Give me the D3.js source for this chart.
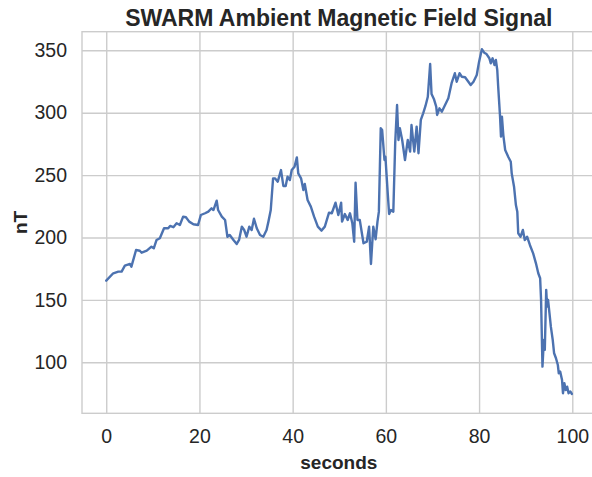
<!DOCTYPE html>
<html>
<head>
<meta charset="utf-8">
<script src="https://cdn.jsdelivr.net/npm/d3@7"></script>
<style>
  html, body { margin: 0; padding: 0; background: #ffffff; }
  svg { display: block; font-family: "Liberation Sans", Arial, sans-serif; }
</style>
</head>
<body>
<svg id="chart" width="592" height="477"></svg>
<script>
// Time stamps (s) and ambient field (nT) of the SWARM trace
const seconds = [
  0.0, 1.5, 2.6, 3.3, 4.0, 5.1, 5.4, 6.4, 7.2, 7.6, 8.7, 9.7, 10.2, 10.8, 11.5,
  12.4, 13.3, 13.7, 14.4, 15.1, 15.8, 16.5, 17.1, 17.8, 18.7, 19.7, 20.3, 21.2,
  21.9, 22.6, 23.0, 23.7, 24.0, 24.8, 25.5, 26.0, 26.5, 27.3, 28.0, 28.5, 29.1,
  29.6, 30.1, 30.7, 31.2, 31.7, 32.3, 33.0, 33.7, 34.4, 34.8, 35.3, 35.8, 36.2,
  36.8, 37.5, 38.0, 38.5, 38.9, 39.4, 39.8, 40.4, 40.9, 41.2, 41.8, 42.3, 42.6,
  43.2, 43.9, 44.6, 45.4, 46.2, 46.9, 47.8, 48.4, 49.2, 49.8, 50.4, 50.6, 51.2,
  51.8, 52.3, 52.8, 53.2, 53.5, 53.9, 54.4, 55.2, 55.9, 56.4, 56.8, 57.3, 57.8,
  58.2, 58.5, 58.9, 59.2, 59.7, 59.9, 60.4, 60.7, 61.1, 61.6, 62.0, 62.4, 62.7,
  63.0, 63.5, 64.1, 64.7, 65.2, 65.5, 66.1, 66.6, 67.0, 67.5, 68.0, 68.5, 69.0,
  69.5, 69.8, 70.3, 70.8, 71.0, 71.5, 72.0, 72.7, 73.4, 74.1, 74.8, 75.2, 75.8,
  76.3, 77.0, 77.7, 78.2, 78.8, 79.5, 80.0, 80.6, 81.1, 81.6, 82.2, 82.5, 82.9,
  83.3, 83.6, 83.9, 84.1, 84.5, 84.7, 84.9, 85.2, 85.6, 86.3, 86.8, 87.0, 87.5,
  87.9, 88.2, 88.4, 88.9, 89.4, 89.8, 90.3, 90.9, 91.6, 92.2, 92.7, 93.1, 93.3,
  93.6, 93.9, 94.1, 94.4, 94.6, 94.8, 95.1, 95.4, 95.8, 96.1, 96.5, 96.9, 97.1,
  97.4, 97.8, 98.0, 98.3, 98.6, 98.9, 99.2, 99.6, 99.9
];
const fieldNT = [
  165.4, 171.3, 172.6, 172.6, 177.4, 178.8, 176.6, 190.0, 189.4, 187.8, 189.4, 192.6, 191.3, 198.0, 199.4,
  207.4, 207.4, 209.2, 208.2, 211.4, 210.0, 216.7, 216.2, 212.7, 210.6, 210.0, 218.0, 219.4,
  220.7, 223.4, 222.0, 229.5, 222.0, 216.7, 214.0, 200.6, 202.0, 198.0, 194.8, 198.0, 208.7,
  206.0, 200.6, 208.7, 206.0, 215.0, 207.4, 202.0, 200.6, 206.0, 212.7, 222.0, 247.4, 247.4,
  244.7, 254.0, 241.3, 241.3, 248.7, 246.0, 254.0, 256.7, 264.2, 251.4, 247.4, 238.0, 242.9,
  230.0, 224.7, 216.7, 208.7, 205.5, 208.7, 219.9, 219.4, 227.9, 218.0, 227.9, 212.7, 218.8,
  214.0, 219.4, 211.4, 196.6, 243.9, 214.0, 214.0, 195.4, 196.6, 208.7, 178.8, 208.7, 198.6,
  212.7, 220.7, 287.5, 286.1, 262.1, 264.7, 235.4, 218.8, 222.0, 220.7, 275.5, 306.2, 278.1,
  287.5, 278.1, 262.1, 278.1, 268.8, 290.1, 268.8, 288.8, 267.5, 294.2, 299.5, 305.4, 312.8,
  339.0, 315.0, 311.0, 304.8, 298.2, 303.5, 300.8, 306.2, 311.5, 323.6, 331.6, 324.8, 331.6,
  328.8, 328.4, 324.8, 322.2, 324.8, 330.2, 340.9, 350.8, 348.1, 347.0, 343.6, 339.6, 343.6,
  338.2, 342.2, 334.2, 320.8, 296.8, 280.8, 296.8, 282.1, 270.1, 264.3, 260.7, 251.4, 240.7,
  226.0, 220.7, 203.4, 200.6, 206.0, 198.0, 200.6, 194.0, 187.3, 179.3, 171.3, 167.3, 150.0,
  96.5, 117.9, 109.9, 158.0, 144.6, 150.0, 139.3, 128.5, 117.9, 107.2, 103.2, 97.8, 91.2,
  92.5, 85.8, 75.2, 83.2, 77.8, 80.4, 75.2, 76.6, 74.6
];
const xTicks = [0, 20, 40, 60, 80, 100];
const yTicks = [100, 150, 200, 250, 300, 350];

const titleText = "SWARM Ambient Magnetic Field Signal";
const xLabel = "seconds";
const yLabel = "nT";

const svg = d3.select("#chart");
const plotLeft = 82, plotRight = 595.6, plotTop = 31.7, plotBottom = 413.3;
const textColor = "#262626";
const gridColor = "#cccccc";

const x = d3.scaleLinear().domain([-5.2, 105.0]).range([plotLeft, plotRight]);
const y = d3.scaleLinear().domain([59.1, 364.9]).range([plotBottom, plotTop]);

// Axes with full-length ticks acting as the grid
const xAxis = svg.append("g")
  .attr("transform", `translate(0,${plotBottom})`)
  .call(d3.axisBottom(x).tickValues(xTicks).tickFormat(d3.format("d"))
    .tickSize(-(plotBottom - plotTop)).tickSizeOuter(0).tickPadding(16));
const yAxis = svg.append("g")
  .attr("transform", `translate(${plotLeft},0)`)
  .call(d3.axisLeft(y).tickValues(yTicks).tickFormat(d3.format("d"))
    .tickSize(-(plotRight - plotLeft)).tickSizeOuter(0).tickPadding(15));

[xAxis, yAxis].forEach(g => {
  g.select(".domain").remove();
  g.selectAll(".tick line").attr("stroke", gridColor).attr("stroke-width", 1.4);
  g.selectAll(".tick text")
    .attr("fill", textColor)
    .style("font-size", "19.5px")
    .style("font-family", "'Liberation Sans', Arial, sans-serif");
});

// Light frame around the plotting area
svg.append("rect")
  .attr("x", plotLeft).attr("y", plotTop)
  .attr("width", plotRight - plotLeft).attr("height", plotBottom - plotTop)
  .attr("fill", "none").attr("stroke", gridColor).attr("stroke-width", 1.4);

// Signal trace
const line = d3.line()
  .x((d, i) => x(seconds[i]))
  .y(d => y(d));
svg.append("path")
  .datum(fieldNT)
  .attr("fill", "none")
  .attr("stroke", "#4c72b0")
  .attr("stroke-width", 2.4)
  .attr("stroke-linejoin", "round")
  .attr("stroke-linecap", "round")
  .attr("d", line);

// Title and axis labels
svg.append("text")
  .attr("x", (plotLeft + plotRight) / 2).attr("y", 26)
  .attr("text-anchor", "middle")
  .attr("fill", textColor)
  .style("font-size", "23px").style("font-weight", "bold")
  .text(titleText);

svg.append("text")
  .attr("x", (plotLeft + plotRight) / 2).attr("y", 469)
  .attr("text-anchor", "middle")
  .attr("fill", textColor)
  .style("font-size", "19px").style("font-weight", "bold")
  .text(xLabel);

svg.append("text")
  .attr("transform", `translate(27,${(plotTop + plotBottom) / 2}) rotate(-90)`)
  .attr("text-anchor", "middle")
  .attr("fill", textColor)
  .style("font-size", "19px").style("font-weight", "bold")
  .text(yLabel);
</script>
</body>
</html>
